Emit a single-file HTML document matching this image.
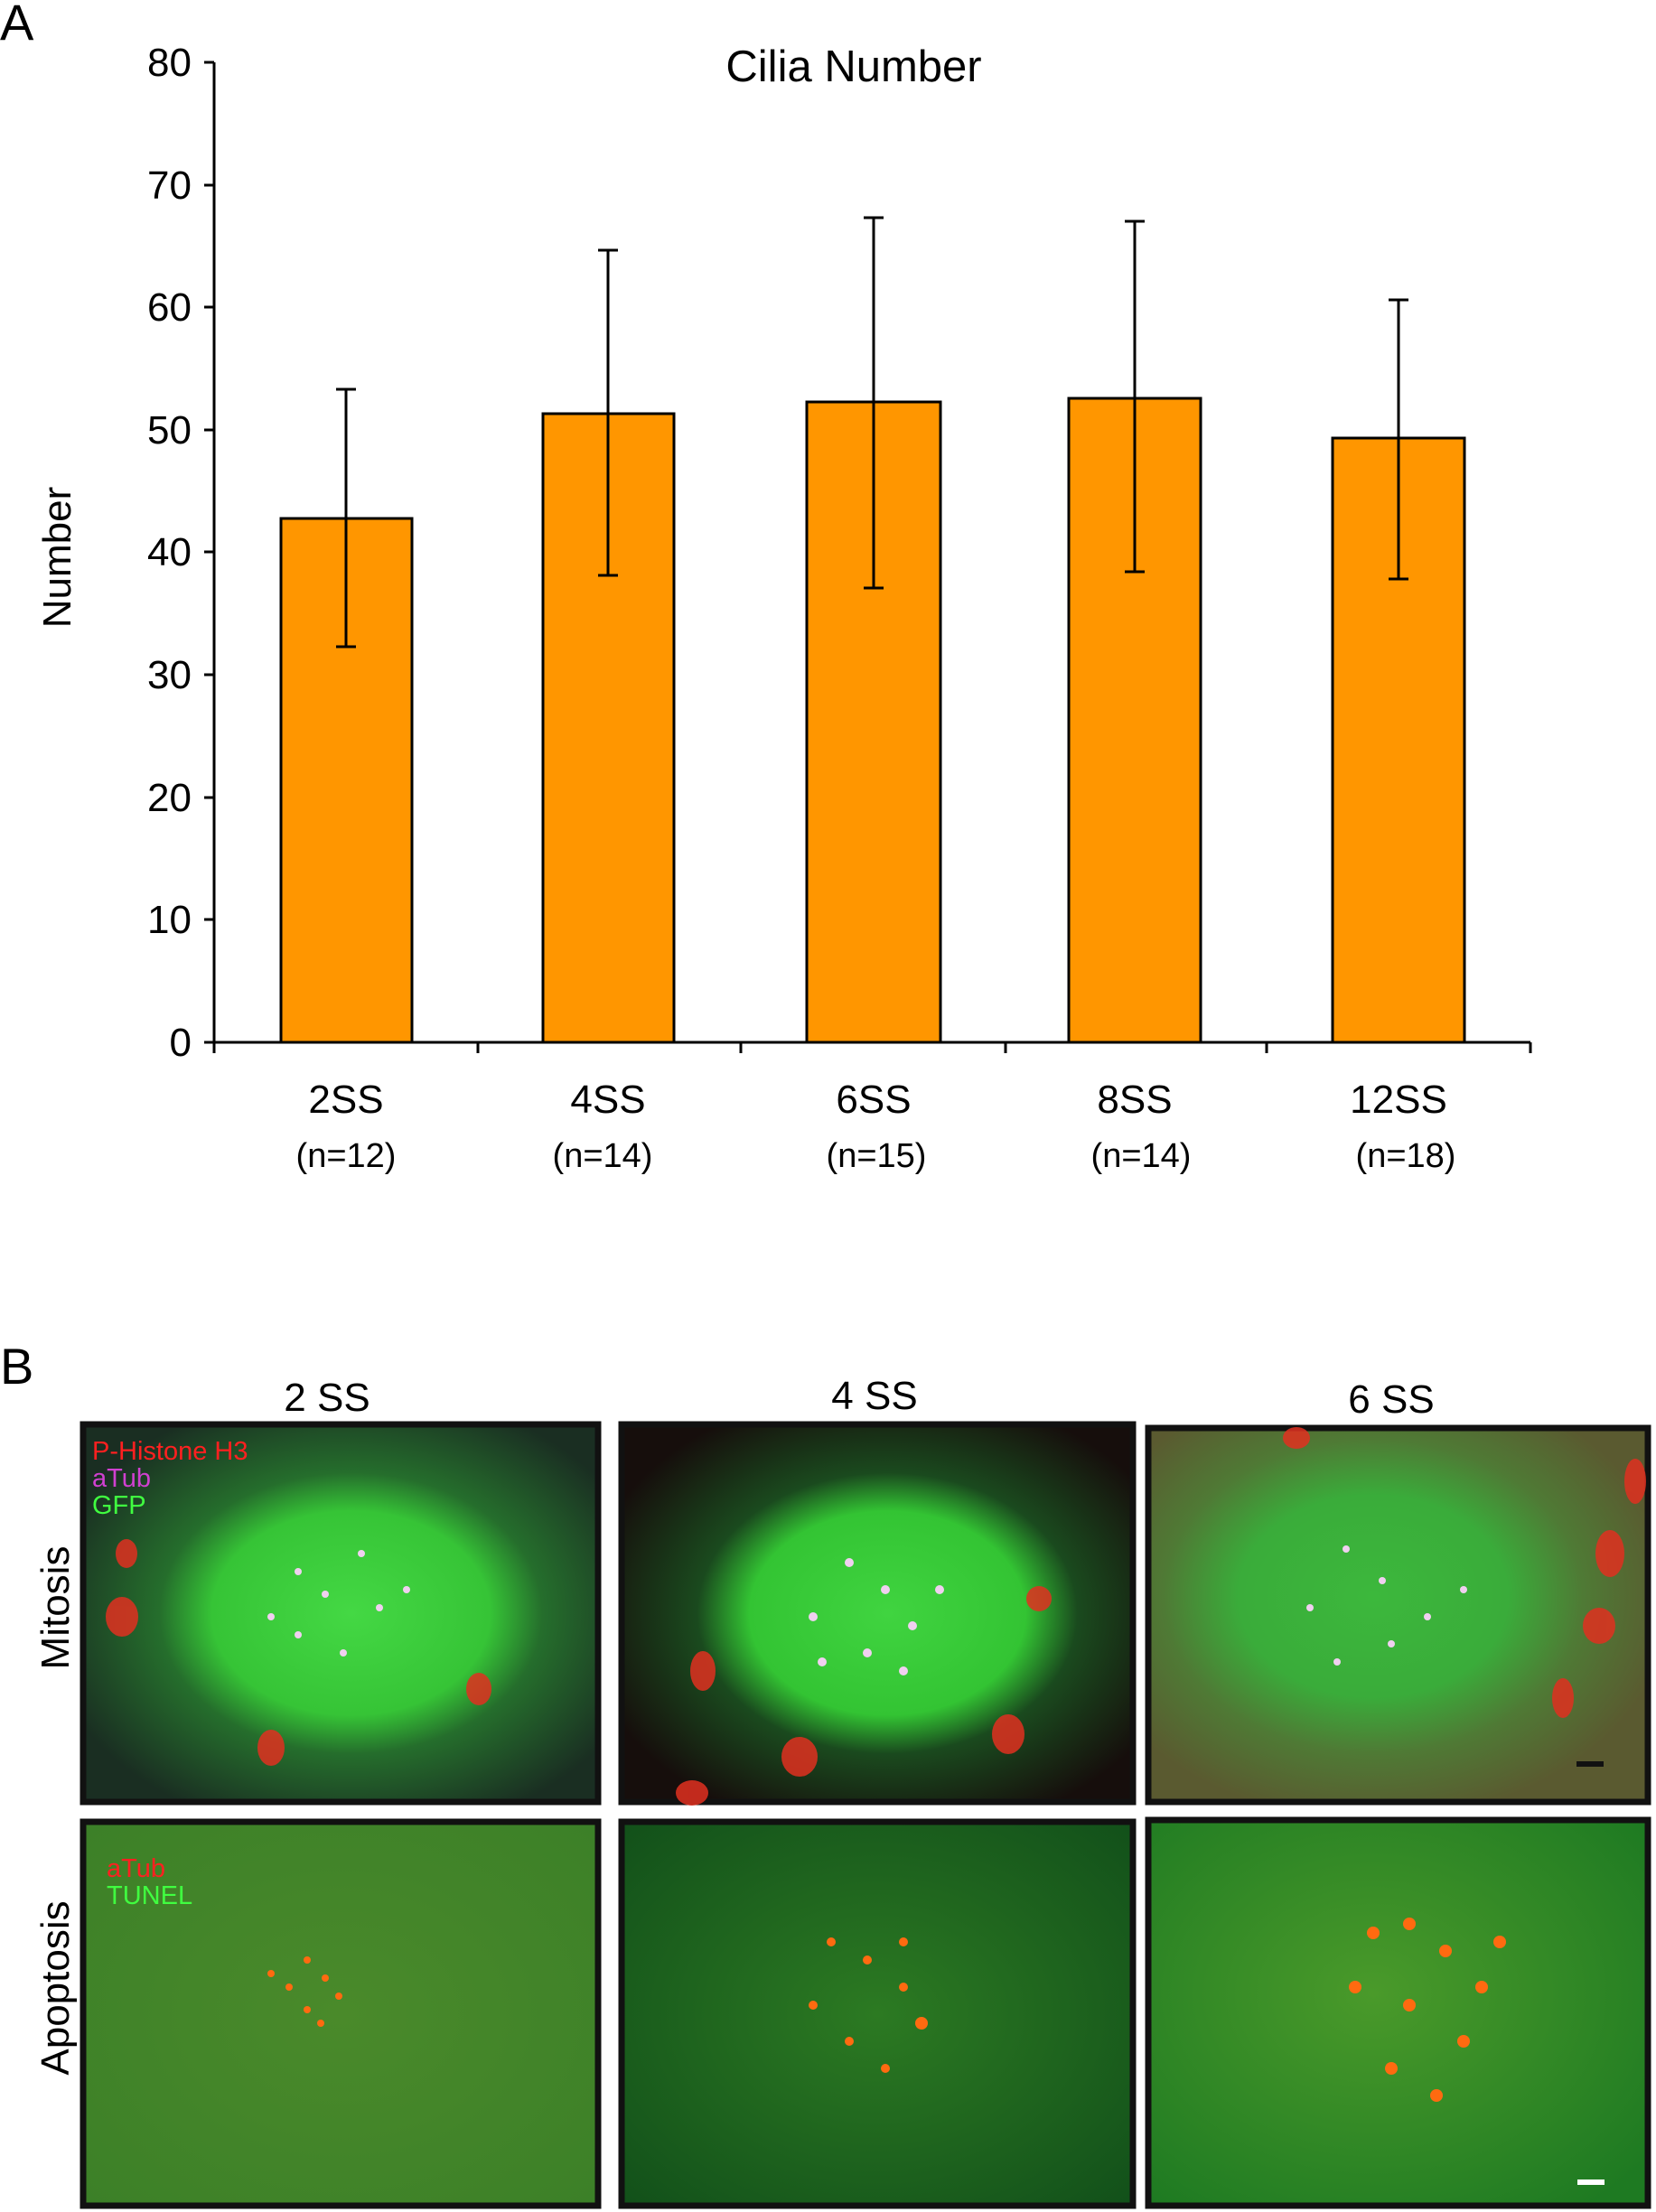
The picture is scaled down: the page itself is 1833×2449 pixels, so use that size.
<!DOCTYPE html>
<html><head><meta charset="utf-8"><style>html,body{margin:0;padding:0;background:#fff}svg{display:block}</style></head>
<body>
<svg width="1833" height="2449" viewBox="0 0 1833 2449" xmlns="http://www.w3.org/2000/svg" font-family="Liberation Sans, Arial, sans-serif">
<defs>
<radialGradient id="g1" cx="0.52" cy="0.5" r="0.6"><stop offset="0" stop-color="#44d844"/><stop offset="0.45" stop-color="#36c436"/><stop offset="0.62" stop-color="#256e2c"/><stop offset="1" stop-color="#1a2e22"/></radialGradient>
<radialGradient id="g2" cx="0.52" cy="0.5" r="0.6"><stop offset="0" stop-color="#40d440"/><stop offset="0.45" stop-color="#33c433"/><stop offset="0.62" stop-color="#1a4a1e"/><stop offset="1" stop-color="#160e0c"/></radialGradient>
<radialGradient id="g3" cx="0.45" cy="0.45" r="0.6"><stop offset="0" stop-color="#3cb83c"/><stop offset="0.45" stop-color="#3aac3a"/><stop offset="0.7" stop-color="#4f7a35"/><stop offset="1" stop-color="#5a5a30"/></radialGradient>
<radialGradient id="a1" cx="0.5" cy="0.5" r="0.7"><stop offset="0" stop-color="#4a8a2a"/><stop offset="1" stop-color="#3c8028"/></radialGradient>
<radialGradient id="a2" cx="0.5" cy="0.5" r="0.7"><stop offset="0" stop-color="#2c7a22"/><stop offset="1" stop-color="#12501a"/></radialGradient>
<radialGradient id="a3" cx="0.45" cy="0.45" r="0.7"><stop offset="0" stop-color="#4a9a2a"/><stop offset="1" stop-color="#1e7a22"/></radialGradient>
</defs>
<text x="0" y="44" font-size="56">A</text>
<text x="945" y="90" font-size="49" text-anchor="middle">Cilia Number</text>
<text transform="translate(78,617) rotate(-90)" font-size="44" text-anchor="middle">Number</text>
<g stroke="#000" stroke-width="3" fill="none">
<line x1="237" y1="69" x2="237" y2="1166"/>
<line x1="237" y1="1154" x2="1694" y2="1154"/>
<line x1="226" y1="69" x2="237" y2="69"/><line x1="226" y1="205" x2="237" y2="205"/><line x1="226" y1="340" x2="237" y2="340"/><line x1="226" y1="476" x2="237" y2="476"/><line x1="226" y1="611" x2="237" y2="611"/><line x1="226" y1="747" x2="237" y2="747"/><line x1="226" y1="883" x2="237" y2="883"/><line x1="226" y1="1018" x2="237" y2="1018"/><line x1="226" y1="1154" x2="237" y2="1154"/>
<line x1="529" y1="1154" x2="529" y2="1166"/><line x1="820" y1="1154" x2="820" y2="1166"/><line x1="1113" y1="1154" x2="1113" y2="1166"/><line x1="1402" y1="1154" x2="1402" y2="1166"/><line x1="1694" y1="1154" x2="1694" y2="1166"/>
</g>
<g font-size="44" text-anchor="end">
<text x="212" y="84">80</text><text x="212" y="220">70</text><text x="212" y="355">60</text><text x="212" y="491">50</text><text x="212" y="626">40</text><text x="212" y="762">30</text><text x="212" y="898">20</text><text x="212" y="1033">10</text><text x="212" y="1169">0</text>
</g>
<g fill="#ff9600" stroke="#000" stroke-width="3">
<rect x="311" y="574" width="145" height="580"/>
<rect x="601" y="458" width="145" height="696"/>
<rect x="893" y="445" width="148" height="709"/>
<rect x="1183" y="441" width="146" height="713"/>
<rect x="1475" y="485" width="146" height="669"/>
</g>
<g stroke="#000" stroke-width="3">
<line x1="383" y1="431" x2="383" y2="716"/><line x1="372" y1="431" x2="394" y2="431"/><line x1="372" y1="716" x2="394" y2="716"/>
<line x1="673" y1="277" x2="673" y2="637"/><line x1="662" y1="277" x2="684" y2="277"/><line x1="662" y1="637" x2="684" y2="637"/>
<line x1="967" y1="241" x2="967" y2="651"/><line x1="956" y1="241" x2="978" y2="241"/><line x1="956" y1="651" x2="978" y2="651"/>
<line x1="1256" y1="245" x2="1256" y2="633"/><line x1="1245" y1="245" x2="1267" y2="245"/><line x1="1245" y1="633" x2="1267" y2="633"/>
<line x1="1548" y1="332" x2="1548" y2="641"/><line x1="1537" y1="332" x2="1559" y2="332"/><line x1="1537" y1="641" x2="1559" y2="641"/>
</g>
<g font-size="44" text-anchor="middle">
<text x="383" y="1232">2SS</text><text x="673" y="1232">4SS</text><text x="967" y="1232">6SS</text><text x="1256" y="1232">8SS</text><text x="1548" y="1232">12SS</text>
</g>
<g font-size="38" text-anchor="middle">
<text x="383" y="1292">(n=12)</text><text x="667" y="1292">(n=14)</text><text x="970" y="1292">(n=15)</text><text x="1263" y="1292">(n=14)</text><text x="1556" y="1292">(n=18)</text>
</g>
<text x="0" y="1532" font-size="56">B</text>
<g font-size="44" text-anchor="middle">
<text x="362" y="1562">2 SS</text><text x="968" y="1560">4 SS</text><text x="1540" y="1564">6 SS</text>
</g>
<text transform="translate(76,1780) rotate(-90)" font-size="44" text-anchor="middle">Mitosis</text>
<text transform="translate(76,2201) rotate(-90)" font-size="44" text-anchor="middle">Apoptosis</text>
<g stroke="#111" stroke-width="7">
<rect x="92" y="1577" width="570" height="418" fill="url(#g1)"/>
<rect x="688" y="1577" width="566" height="418" fill="url(#g2)"/>
<rect x="1271" y="1581" width="553" height="414" fill="url(#g3)"/>
<rect x="92" y="2017" width="570" height="425" fill="url(#a1)"/>
<rect x="688" y="2017" width="566" height="425" fill="url(#a2)"/>
<rect x="1271" y="2015" width="553" height="427" fill="url(#a3)"/>
</g>
<g fill="#e03020" opacity="0.85">
<ellipse cx="135" cy="1790" rx="18" ry="22"/><ellipse cx="300" cy="1935" rx="15" ry="20"/><ellipse cx="530" cy="1870" rx="14" ry="18"/><ellipse cx="140" cy="1720" rx="12" ry="16"/>
<ellipse cx="778" cy="1850" rx="14" ry="22"/><ellipse cx="885" cy="1945" rx="20" ry="22"/><ellipse cx="1116" cy="1920" rx="18" ry="22"/><ellipse cx="1150" cy="1770" rx="14" ry="14"/><ellipse cx="766" cy="1985" rx="18" ry="14"/>
<ellipse cx="1782" cy="1720" rx="16" ry="26"/><ellipse cx="1770" cy="1800" rx="18" ry="20"/><ellipse cx="1730" cy="1880" rx="12" ry="22"/><ellipse cx="1810" cy="1640" rx="12" ry="25"/><ellipse cx="1435" cy="1592" rx="15" ry="12"/>
</g>
<g fill="#f0d0f0">
<circle cx="330" cy="1740" r="4"/><circle cx="360" cy="1765" r="4"/><circle cx="300" cy="1790" r="4"/><circle cx="420" cy="1780" r="4"/><circle cx="380" cy="1830" r="4"/><circle cx="330" cy="1810" r="4"/><circle cx="450" cy="1760" r="4"/><circle cx="400" cy="1720" r="4"/>
<circle cx="940" cy="1730" r="5"/><circle cx="980" cy="1760" r="5"/><circle cx="900" cy="1790" r="5"/><circle cx="1010" cy="1800" r="5"/><circle cx="960" cy="1830" r="5"/><circle cx="1040" cy="1760" r="5"/><circle cx="910" cy="1840" r="5"/><circle cx="1000" cy="1850" r="5"/>
<circle cx="1490" cy="1715" r="4"/><circle cx="1530" cy="1750" r="4"/><circle cx="1450" cy="1780" r="4"/><circle cx="1580" cy="1790" r="4"/><circle cx="1540" cy="1820" r="4"/><circle cx="1480" cy="1840" r="4"/><circle cx="1620" cy="1760" r="4"/>
</g>
<g fill="#ff6a10">
<circle cx="340" cy="2170" r="4"/><circle cx="360" cy="2190" r="4"/><circle cx="320" cy="2200" r="4"/><circle cx="375" cy="2210" r="4"/><circle cx="340" cy="2225" r="4"/><circle cx="300" cy="2185" r="4"/><circle cx="355" cy="2240" r="4"/>
<circle cx="920" cy="2150" r="5"/><circle cx="960" cy="2170" r="5"/><circle cx="1000" cy="2200" r="5"/><circle cx="1020" cy="2240" r="7"/><circle cx="940" cy="2260" r="5"/><circle cx="980" cy="2290" r="5"/><circle cx="900" cy="2220" r="5"/><circle cx="1000" cy="2150" r="5"/>
<circle cx="1520" cy="2140" r="7"/><circle cx="1560" cy="2130" r="7"/><circle cx="1600" cy="2160" r="7"/><circle cx="1640" cy="2200" r="7"/><circle cx="1500" cy="2200" r="7"/><circle cx="1560" cy="2220" r="7"/><circle cx="1620" cy="2260" r="7"/><circle cx="1540" cy="2290" r="7"/><circle cx="1590" cy="2320" r="7"/><circle cx="1660" cy="2150" r="7"/>
</g>
<text x="102" y="1616" font-size="29" fill="#ff2020">P-Histone H3</text>
<text x="102" y="1646" font-size="29" fill="#d040d0">aTub</text>
<text x="102" y="1676" font-size="29" fill="#40ff40">GFP</text>
<text x="118" y="2078" font-size="29" fill="#ff2020">aTub</text>
<text x="118" y="2108" font-size="29" fill="#40ff40">TUNEL</text>
<rect x="1745" y="1950" width="30" height="6" fill="#111"/>
<rect x="1746" y="2413" width="30" height="6" fill="#fff"/>
</svg>
</body></html>
